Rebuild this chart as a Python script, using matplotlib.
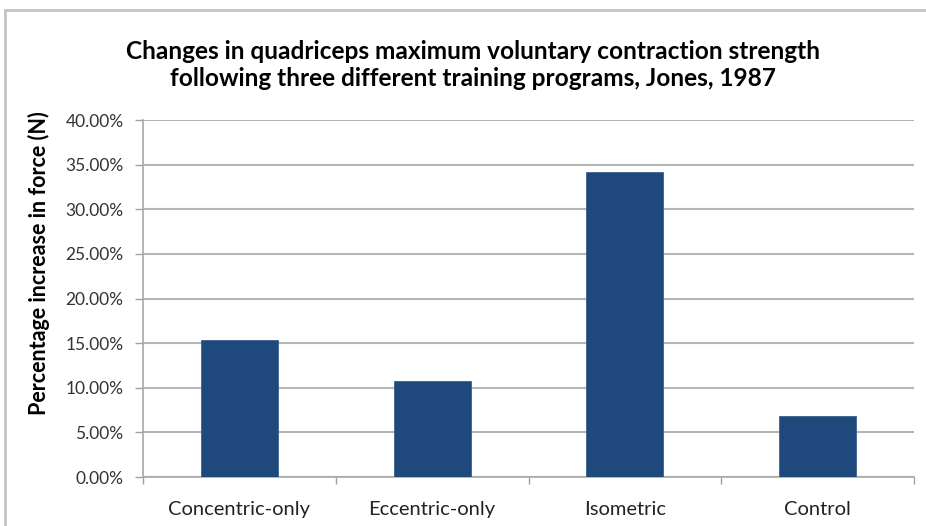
import matplotlib
matplotlib.use("Agg")
import matplotlib.pyplot as plt
from matplotlib.ticker import FuncFormatter, FixedLocator
from matplotlib.lines import Line2D

categories = ["Concentric-only", "Eccentric-only", "Isometric", "Control"]
values = [15.37, 10.8, 34.14, 6.88]
yticks = [0, 5, 10, 15, 20, 25, 30, 35, 40]

plt.rcParams['font.family'] = ['Lato', 'DejaVu Sans']

fig = plt.figure(figsize=(9.26, 5.26), dpi=100)
ax = fig.add_axes([143/926, 1-477/526, (914-143)/926, (477-120)/526])

x = list(range(len(categories)))
ax.bar(x, values, width=0.4, color="#1f497d", edgecolor="#3d5f8f", linewidth=0.6, zorder=3)
ax.set_xlim(-0.5, len(categories)-0.5)
ax.set_ylim(0, 40)
ax.set_yticks(yticks)
ax.yaxis.set_major_formatter(FuncFormatter(lambda v, p: f"{v:.2f}%"))
ax.set_xticks(x)
ax.set_xticklabels(categories, fontsize=14.5, color="#222222")
ax.xaxis.set_minor_locator(FixedLocator([-0.5, 0.5, 1.5, 2.5, 3.5]))
ax.tick_params(axis='x', which='major', length=0, pad=17)
ax.tick_params(axis='x', which='minor', length=5, color="#a0a0a0", width=1)
ax.tick_params(axis='y', length=6, color="#a0a0a0", width=1, labelsize=12.5, pad=8, labelcolor="#333333")
ax.grid(axis='y', color="#b5b5b5", linewidth=1.5, zorder=0)
for s in ['top', 'right']:
    ax.spines[s].set_visible(False)
for s in ['left', 'bottom']:
    ax.spines[s].set_color("#a8a8a8")
    ax.spines[s].set_linewidth(1.2)
ax.set_ylabel("Percentage increase in force (N)", fontsize=15.5, fontweight='bold')
ax.yaxis.set_label_coords((50-143)/771, (477-263)/357)

fig.text(473/926, 1-65/526, "Changes in quadriceps maximum voluntary contraction strength\nfollowing three different training programs, Jones, 1987",
         ha='center', va='center', fontsize=17.6, fontweight='bold', linespacing=1.25)

# outer chart frame (left and top edges visible)
fig.add_artist(Line2D([5/926, 5/926], [0, 1-10/526], transform=fig.transFigure, color="#c4c4c4", linewidth=2))
fig.add_artist(Line2D([5/926, 1], [1-10/526, 1-10/526], transform=fig.transFigure, color="#c4c4c4", linewidth=2))

fig.savefig("out.png", dpi=100)
